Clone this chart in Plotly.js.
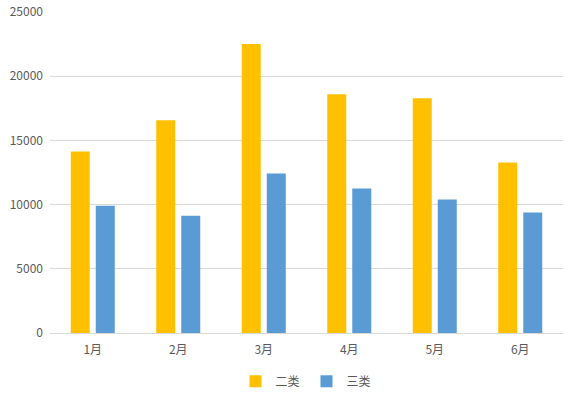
<!DOCTYPE html>
<html>
<head>
<meta charset="utf-8">
<script src="https://cdn.plot.ly/plotly-3.0.1.min.js"></script>
<style>html,body{margin:0;padding:0;background:#fff;}#chart{width:569px;height:397px;}</style>
</head>
<body>
<div id="chart"></div>
<script>
const categories = ["1月", "2月", "3月", "4月", "5月", "6月"];
const series2 = [14140, 16560, 22500, 18590, 18280, 13280];
const series3 = [9920, 9140, 12420, 11250, 10390, 9380];
const seriesNames = ["二类", "三类"];

const font = {family: '"Noto Sans CJK SC", "Microsoft YaHei", sans-serif', size: 12, color: '#595959'};

const data = [
  {type: 'bar', name: seriesNames[0], x: categories, y: series2, marker: {color: '#FFC000'}},
  {type: 'bar', name: seriesNames[1], x: categories, y: series3, marker: {color: '#5B9BD5'}}
];

const layout = {
  width: 569, height: 397,
  margin: {l: 50, r: 6, t: 12, b: 64, autoexpand: false},
  paper_bgcolor: '#fff', plot_bgcolor: '#fff',
  font: font,
  barmode: 'group',
  bargap: 0.415,
  bargroupgap: 0.24,
  xaxis: {showgrid: false, showline: true, linecolor: '#d9d9d9', linewidth: 1, ticks: '', tickfont: font, ticklabelstandoff: 6, automargin: false},
  yaxis: {range: [0, 25000], dtick: 5000, tickformat: 'd', showgrid: true, gridcolor: '#d9d9d9', zeroline: false, showline: false, ticks: '', tickfont: font, ticklabelstandoff: 6, automargin: false},
  legend: {orientation: 'h', x: 0.5, xanchor: 'center', y: -0.15, yanchor: 'middle', font: font, itemwidth: 30, entrywidth: 26, entrywidthmode: 'pixels'},
  showlegend: true
};

Plotly.newPlot('chart', data, layout, {displayModeBar: false, staticPlot: true});
</script>
</body>
</html>
